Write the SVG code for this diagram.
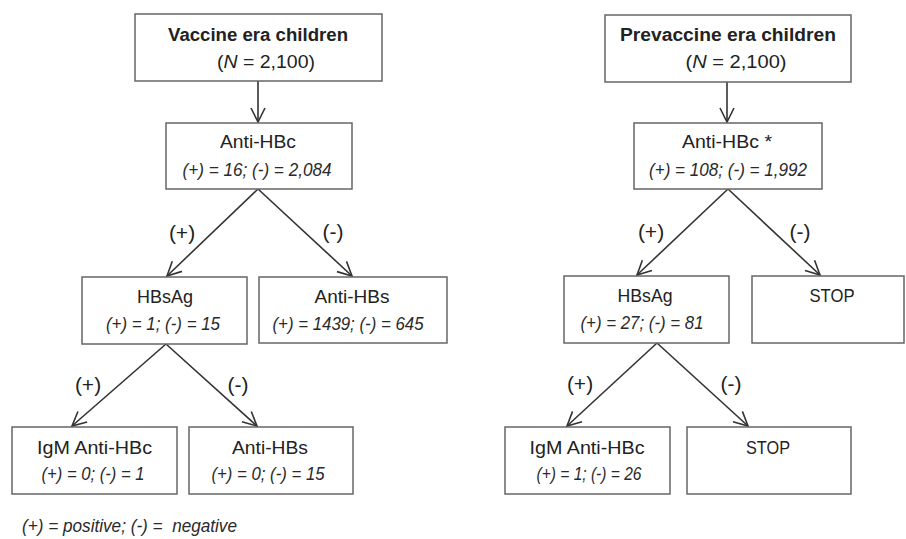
<svg xmlns="http://www.w3.org/2000/svg" width="906" height="539" viewBox="0 0 906 539">
<style>
.box{fill:#fff;stroke:#666;stroke-width:1.5}
.t{font-family:"Liberation Sans",Arial,sans-serif;font-size:18px;fill:#222;text-anchor:middle}
.b{font-weight:bold}
.i{font-style:italic;font-size:17.5px;fill:#2a2a2a}
.lbl{font-family:"Liberation Sans",Arial,sans-serif;font-size:21px;fill:#222;text-anchor:middle}
.c{stroke:#333;stroke-width:1.6;fill:none;marker-end:url(#ah)}
</style>
<defs>
<marker id="ah" viewBox="0 0 16 16" refX="15" refY="8" markerWidth="16" markerHeight="16" markerUnits="userSpaceOnUse" orient="auto">
<path d="M1,1 L15,8 L1,15" fill="none" stroke="#333" stroke-width="1.6"/>
</marker>
</defs>
<rect width="906" height="539" fill="#fff"/>

<g id="connectors">
<line class="c" x1="258" y1="81" x2="258" y2="122"/>
<line class="c" x1="258" y1="189" x2="167" y2="276"/>
<line class="c" x1="258" y1="189" x2="352" y2="276"/>
<line class="c" x1="166" y1="344" x2="72" y2="426"/>
<line class="c" x1="166" y1="344" x2="257" y2="426"/>
<line class="c" x1="727" y1="82" x2="727" y2="122"/>
<line class="c" x1="728" y1="189" x2="637" y2="275"/>
<line class="c" x1="728" y1="189" x2="820" y2="275"/>
<line class="c" x1="657" y1="343" x2="567" y2="426"/>
<line class="c" x1="657" y1="343" x2="748" y2="426"/>
<text class="lbl" x="182" y="240">(+)</text>
<text class="lbl" x="333" y="239">(-)</text>
<text class="lbl" x="88" y="392">(+)</text>
<text class="lbl" x="238" y="392">(-)</text>
<text class="lbl" x="651" y="239">(+)</text>
<text class="lbl" x="800" y="239">(-)</text>
<text class="lbl" x="580" y="391">(+)</text>
<text class="lbl" x="731" y="391">(-)</text>
</g>

<g id="vaccine-root">
<rect class="box" x="135" y="14" width="247" height="67"/>
<text class="t b" x="258" y="41" textLength="180" lengthAdjust="spacingAndGlyphs">Vaccine era children</text>
<text class="t" x="266" y="68" textLength="98" lengthAdjust="spacingAndGlyphs">(<tspan font-style="italic">N</tspan> = 2,100)</text>
</g>
<g id="vaccine-antihbc">
<rect class="box" x="166" y="123" width="186" height="66"/>
<text class="t" x="258" y="148" textLength="76" lengthAdjust="spacingAndGlyphs">Anti-HBc</text>
<text class="t i" x="257" y="176" textLength="149" lengthAdjust="spacingAndGlyphs">(+) = 16; (-) = 2,084</text>
</g>
<g id="vaccine-hbsag">
<rect class="box" x="82" y="277" width="165" height="67"/>
<text class="t" x="165" y="303" textLength="56" lengthAdjust="spacingAndGlyphs">HBsAg</text>
<text class="t i" x="163" y="330" textLength="114" lengthAdjust="spacingAndGlyphs">(+) = 1; (-) = 15</text>
</g>
<g id="vaccine-antihbs">
<rect class="box" x="259" y="277" width="188" height="66"/>
<text class="t" x="352" y="303" textLength="75" lengthAdjust="spacingAndGlyphs">Anti-HBs</text>
<text class="t i" x="348" y="330" textLength="151" lengthAdjust="spacingAndGlyphs">(+) = 1439; (-) = 645</text>
</g>
<g id="vaccine-igm">
<rect class="box" x="12" y="427" width="165" height="67"/>
<text class="t" x="94.5" y="454" textLength="115" lengthAdjust="spacingAndGlyphs">IgM Anti-HBc</text>
<text class="t i" x="93" y="480" textLength="103" lengthAdjust="spacingAndGlyphs">(+) = 0; (-) = 1</text>
</g>
<g id="vaccine-antihbs2">
<rect class="box" x="189" y="427" width="164" height="67"/>
<text class="t" x="270" y="454" textLength="76" lengthAdjust="spacingAndGlyphs">Anti-HBs</text>
<text class="t i" x="268" y="480" textLength="113" lengthAdjust="spacingAndGlyphs">(+) = 0; (-) = 15</text>
</g>

<g id="prevaccine-root">
<rect class="box" x="605" y="15" width="246" height="67"/>
<text class="t b" x="728" y="41" textLength="216" lengthAdjust="spacingAndGlyphs">Prevaccine era children</text>
<text class="t" x="736" y="68" textLength="101" lengthAdjust="spacingAndGlyphs">(<tspan font-style="italic">N</tspan> = 2,100)</text>
</g>
<g id="prevaccine-antihbc">
<rect class="box" x="634" y="123" width="188" height="66"/>
<text class="t" x="727" y="148" textLength="90" lengthAdjust="spacingAndGlyphs">Anti-HBc *</text>
<text class="t i" x="728" y="176" textLength="158" lengthAdjust="spacingAndGlyphs">(+) = 108; (-) = 1,992</text>
</g>
<g id="prevaccine-hbsag">
<rect class="box" x="564" y="276" width="165" height="67"/>
<text class="t" x="645" y="302" textLength="55" lengthAdjust="spacingAndGlyphs">HBsAg</text>
<text class="t i" x="642" y="329" textLength="123" lengthAdjust="spacingAndGlyphs">(+) = 27; (-) = 81</text>
</g>
<g id="prevaccine-stop1">
<rect class="box" x="752" y="276" width="152" height="67"/>
<text class="t" x="832" y="302" textLength="45" lengthAdjust="spacingAndGlyphs">STOP</text>
</g>
<g id="prevaccine-igm">
<rect class="box" x="505" y="427" width="165" height="67"/>
<text class="t" x="587" y="454" textLength="115" lengthAdjust="spacingAndGlyphs">IgM Anti-HBc</text>
<text class="t i" x="589" y="480" textLength="105" lengthAdjust="spacingAndGlyphs">(+) = 1; (-) = 26</text>
</g>
<g id="prevaccine-stop2">
<rect class="box" x="687" y="427" width="164" height="67"/>
<text class="t" x="768" y="454" textLength="44" lengthAdjust="spacingAndGlyphs">STOP</text>
</g>

<text xml:space="preserve" x="22" y="532" font-family="Liberation Sans, Arial, sans-serif" font-size="17.5" font-style="italic" fill="#2a2a2a" textLength="215" lengthAdjust="spacingAndGlyphs">(+) = positive; (-) =  negative</text>
</svg>
